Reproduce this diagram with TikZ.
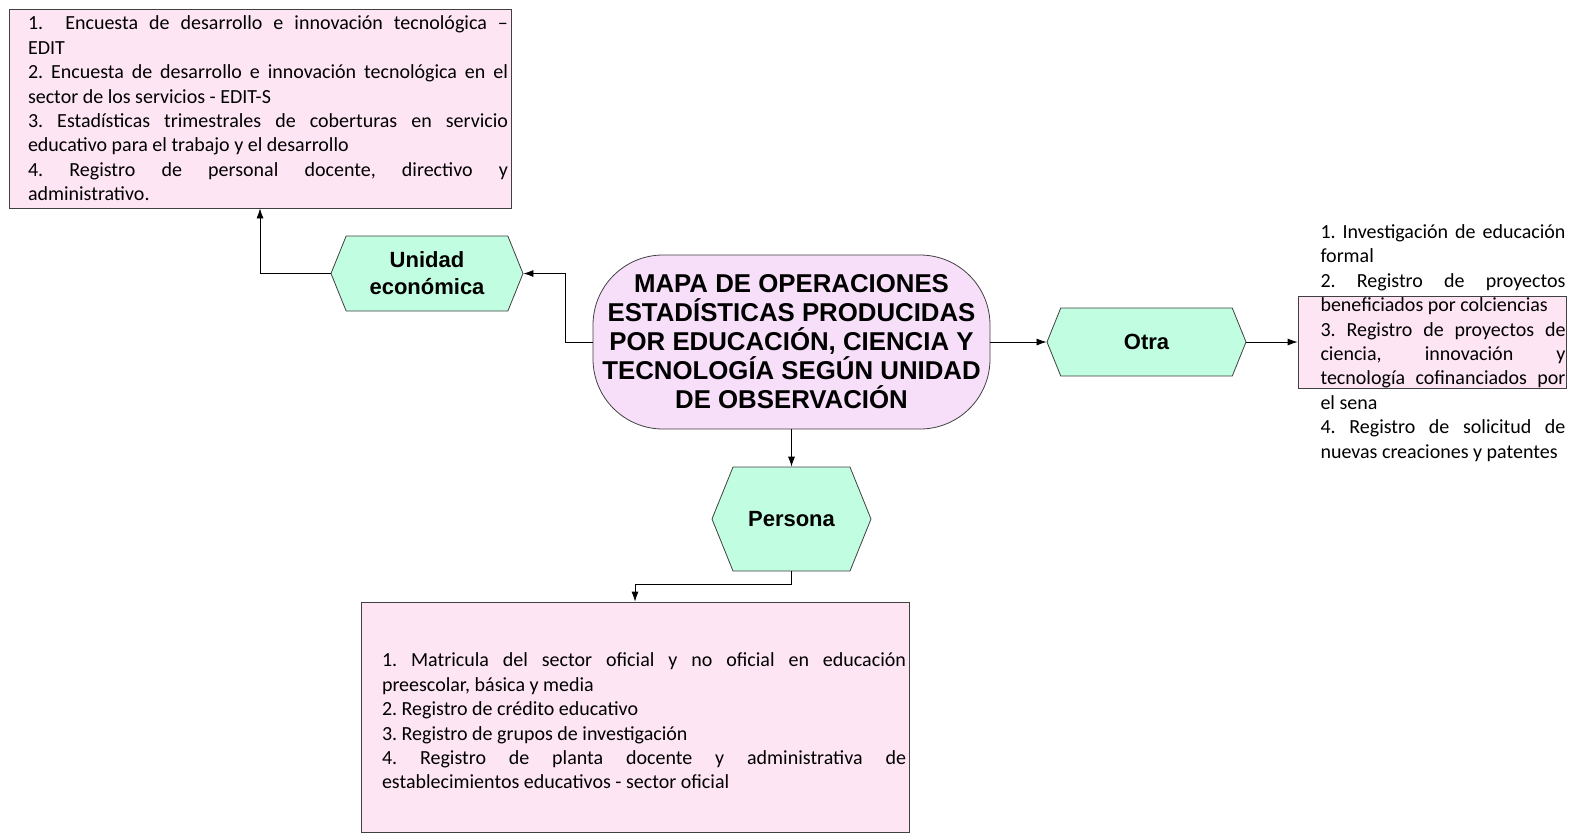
\documentclass[tikz,border=0pt]{standalone}
\usepackage{fontspec}
\setmainfont{Carlito}
\newfontfamily\arialfont{Liberation Sans}
\usetikzlibrary{shapes.symbols,arrows.meta}
\frenchspacing

\definecolor{boxpink}{RGB}{253,229,243}
\definecolor{titlelila}{RGB}{247,223,250}
\definecolor{hexmint}{RGB}{193,253,224}
\definecolor{edgegray}{RGB}{64,64,64}

\begin{document}
\begin{tikzpicture}[x=0.5pt,y=-0.5pt,
    listbox/.style={draw=edgegray,fill=boxpink,inner xsep=1.5pt,inner ysep=0pt,
        font=\fontsize{10}{12.2}\selectfont},
    hexbox/.style={shape=signal,signal to=west and east,signal pointer angle=136,
        draw=edgegray,fill=hexmint,inner sep=0pt,align=center,
        font=\arialfont\bfseries\fontsize{11}{13.5}\selectfont},
    conn/.style={-{Latex[length=5pt,width=3.5pt]}}]

    \useasboundingbox (0,0) rectangle (1573,832);

    % centre
    \node[draw=edgegray,fill=titlelila,rounded corners=35pt,minimum width=198.5pt,
        minimum height=87pt,align=center,
        font=\arialfont\bfseries\fontsize{12.9}{14.5}\selectfont] (mapa) at (791.5,342)
        {MAPA DE OPERACIONES\\ESTADÍSTICAS PRODUCIDAS\\POR EDUCACIÓN, CIENCIA Y\\TECNOLOGÍA SEGÚN UNIDAD\\DE OBSERVACIÓN};

    % units of observation
    \node[hexbox,minimum width=96pt,minimum height=37.5pt] (unidad) at (427,273.5) {Unidad\\económica};
    \node[hexbox,minimum width=99.5pt,minimum height=34pt] (otra) at (1146.5,342) {Otra};
    \node[hexbox,minimum width=79.5pt,minimum height=52pt] (persona) at (791.5,519) {Persona};

    % lists
    \node[listbox,minimum width=251pt,minimum height=99.5pt] (econbox) at (260,108.5)
        {\hspace*{8pt}\parbox{240pt}{%
        1.\ \ Encuesta de desarrollo e innovación tecnológica --\linebreak EDIT\par
        2. Encuesta de desarrollo e innovación tecnológica en el\linebreak sector de los servicios - EDIT-S\par
        3. Estadísticas trimestrales de coberturas en servicio\linebreak educativo para el trabajo y el desarrollo\par
        4. Registro de personal docente, directivo y\linebreak administrativo.}};

    \node[listbox,minimum width=134pt,minimum height=46pt] (otrabox) at (1432,342) {};
    \node[inner sep=0pt,font=\fontsize{10}{12.2}\selectfont] (otratext) at (1443,343)
        {\parbox{122.5pt}{%
        1. Investigación de educación\linebreak formal\par
        2. Registro de proyectos\linebreak beneficiados por colciencias\par
        3. Registro de proyectos de\linebreak ciencia, innovación y\linebreak tecnología cofinanciados por\linebreak el sena\par
        4. Registro de solicitud de\linebreak nuevas creaciones y patentes}};

    \node[listbox,minimum width=274pt,minimum height=115pt] (personabox) at (635,717)
        {\hspace*{9pt}\parbox{262pt}{\vspace*{4pt}%
        1. Matricula del sector oficial y no oficial en educación\linebreak preescolar, básica y media\par
        2. Registro de crédito educativo\par
        3. Registro de grupos de investigación\par
        4. Registro de planta docente y administrativa de\linebreak establecimientos educativos - sector oficial}};

    % connectors
    \draw[conn] (mapa.west) -- ++(-27,0) |- (unidad.east);
    \draw[conn] (unidad.west) -| (econbox.south);
    \draw[conn] (mapa.east) -- (otra.west);
    \draw[conn] (otra.east) -- (otrabox.west);
    \draw[conn] (mapa.south) -- (persona.north);
    \draw[conn] (persona.south) -- ++(0,13) -| (personabox.north);

\end{tikzpicture}
\end{document}
